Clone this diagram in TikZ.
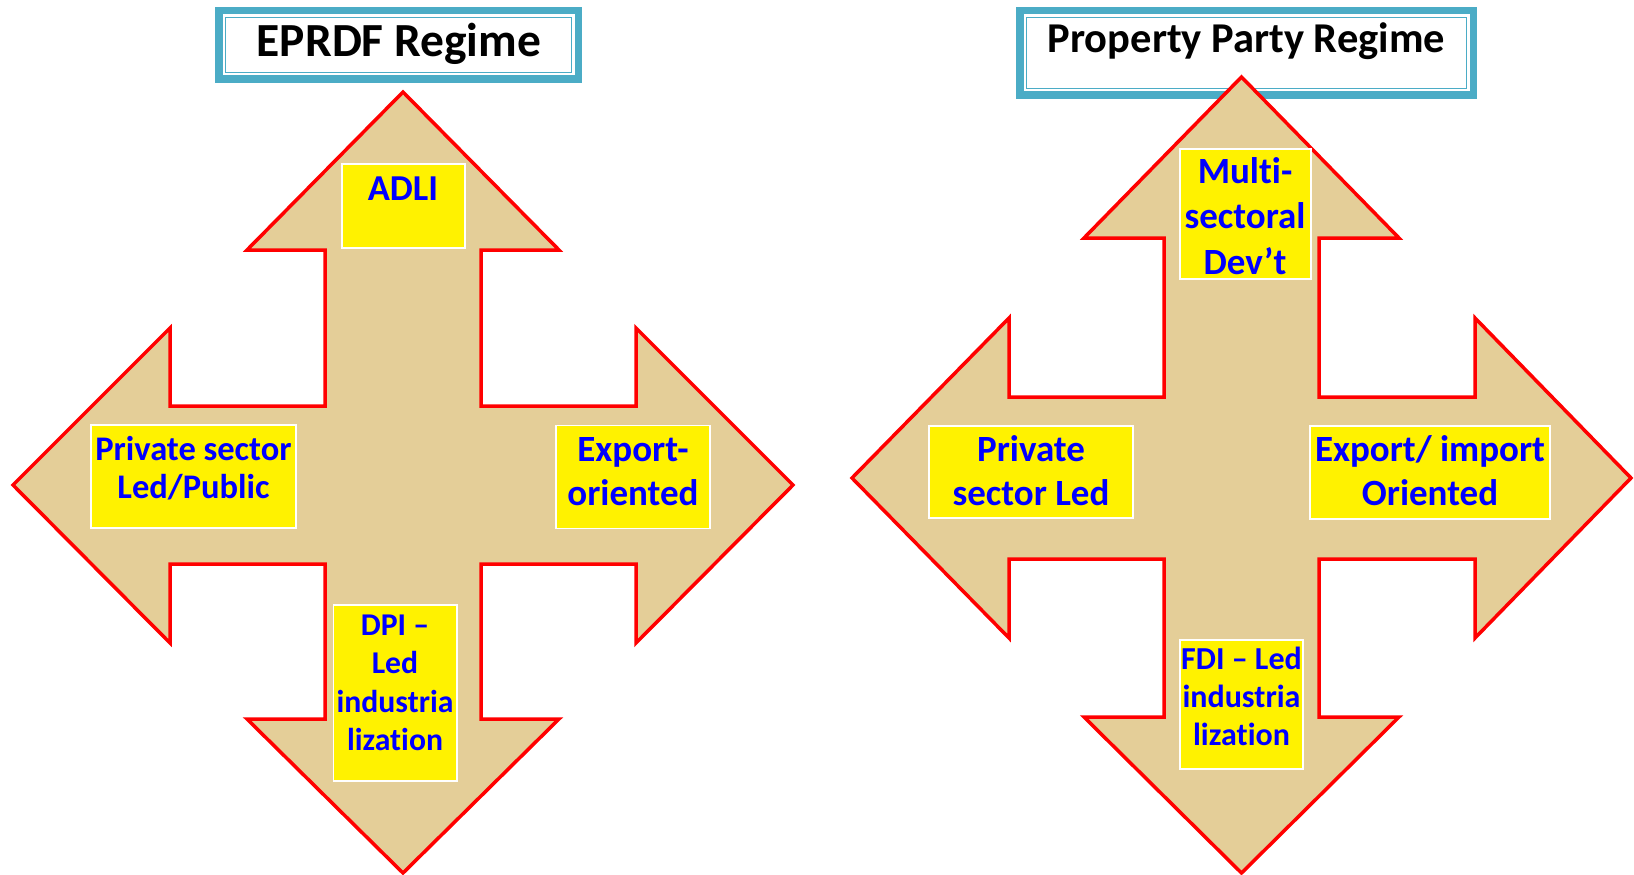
\documentclass[tikz,border=0pt]{standalone}
\usepackage{fontspec}
\setmainfont{Carlito}[Ligatures={NoCommon}]
\definecolor{papyrus}{RGB}{228,206,152}
\definecolor{titleteal}{RGB}{75,172,198}
\definecolor{textblue}{RGB}{0,0,255}
\tikzset{
  crossarrow/.style={draw=red, line width=3.5pt, fill=papyrus, line join=miter},
  ybox/.style={draw=white, line width=1.5pt, fill=yellow, inner sep=0pt, outer sep=0pt},
  lbl/.style={text=textblue, align=center, anchor=base, inner sep=0pt},
  titleouter/.style={fill=titleteal, draw=none, inner sep=0pt, outer sep=0pt},
  titleinner/.style={fill=white, draw=none, inner sep=0pt, outer sep=0pt},
  titletext/.style={text=black, anchor=base, inner sep=0pt},
  thinframe/.style={draw=titleteal, line width=1.3pt},
}
\begin{document}
\begin{tikzpicture}[x=1pt, y=-1pt]
\useasboundingbox[fill=white] (0,0) rectangle (1634,875);

% ---------- title boxes ----------
\node[titleouter, minimum width=367pt, minimum height=76pt] (t1) at (398.5,45) {};
\node[titleinner, minimum width=352pt, minimum height=61pt] (t1in) at (t1.center) {};
\draw[thinframe] ([shift={(3,3)}]t1in.north west) rectangle ([shift={(-3,-3)}]t1in.south east);
\node[titletext, font=\bfseries\fontsize{47.5}{47.5}\selectfont] (t1text) at (399,57) {EPRDF Regime};

\node[titleouter, minimum width=461pt, minimum height=92pt] (t2) at (1246.5,53) {};
\node[titleinner, minimum width=446pt, minimum height=77pt] (t2in) at (t2.center) {};
\draw[thinframe] ([shift={(3,3)}]t2in.north west) rectangle ([shift={(-3,-3)}]t2in.south east);
\node[titletext, font=\bfseries\fontsize{42.5}{42.5}\selectfont] (t2text) at (1246.5,53) {Property Party Regime};

% ---------- left cross ----------
\draw[crossarrow] (403,92) -- (559,250) -- (481,250) -- (481,406) -- (636,406) -- (636,328)
  -- (793,485) -- (636,643) -- (636,564) -- (481,564) -- (481,719) -- (559,719)
  -- (403,873) -- (247,719) -- (325,719) -- (325,564) -- (170,564) -- (170,643)
  -- (13,485) -- (170,328) -- (170,406) -- (325,406) -- (325,250) -- (247,250) -- cycle;

% ---------- right cross ----------
\draw[crossarrow] (1241.5,77) -- (1399,238) -- (1319,238) -- (1319,397) -- (1475,397) -- (1475,318)
  -- (1631,478) -- (1475,638) -- (1475,559) -- (1319,559) -- (1319,717) -- (1399,717)
  -- (1241.5,873) -- (1084,717) -- (1164,717) -- (1164,559) -- (1009,559) -- (1009,638)
  -- (852,478) -- (1009,318) -- (1009,397) -- (1164,397) -- (1164,238) -- (1084,238) -- cycle;

% ---------- yellow boxes (left) ----------
\node[ybox, minimum width=123pt, minimum height=84pt] (adliBox) at (403.5,206) {};
\node[ybox, minimum width=205pt, minimum height=103pt] (pslBox) at (193.5,476.5) {};
\node[ybox, minimum width=154pt, minimum height=103pt] (expBox) at (633,477) {};
\node[ybox, minimum width=123.5pt, minimum height=176pt] (dpiBox) at (395.25,693) {};

% ---------- yellow boxes (right) ----------
\node[ybox, minimum width=131pt, minimum height=130pt] (multiBox) at (1245.5,214) {};
\node[ybox, minimum width=204pt, minimum height=92pt] (pslRBox) at (1031,472) {};
\node[ybox, minimum width=240pt, minimum height=93pt] (expRBox) at (1430,472.5) {};
\node[ybox, minimum width=123pt, minimum height=129pt] (fdiBox) at (1241.5,704.5) {};

% ---------- labels (left) ----------
\node[lbl, font=\bfseries\fontsize{36.5}{36.5}\selectfont] (adli) at (403,200) {ADLI};
\node[lbl, font=\bfseries\fontsize{34.5}{38}\selectfont] (psl) at (193.5,498) {Private sector\\Led/Public};
\node[lbl, font=\bfseries\fontsize{37}{43.5}\selectfont] (exp) at (633,505) {Export-\\oriented};
\node[lbl, font=\bfseries\fontsize{31.7}{38.5}\selectfont] (dpi) at (395,750.5) {DPI --\\Led\\industria\\lization};

% ---------- labels (right) ----------
\node[lbl, font=\bfseries\fontsize{37}{45.5}\selectfont] (multi) at (1245,274) {Multi-\\sectoral\\Dev’t};
\node[lbl, font=\bfseries\fontsize{37}{43.5}\selectfont] (pslR) at (1031,505) {Private\\sector Led};
\node[lbl, font=\bfseries\fontsize{37}{43.5}\selectfont] (expR) at (1430,505) {Export/ import\\Oriented};
\node[lbl, font=\bfseries\fontsize{32}{38}\selectfont] (fdi) at (1241.5,745) {FDI -- Led\\industria\\lization};
\end{tikzpicture}
\end{document}
